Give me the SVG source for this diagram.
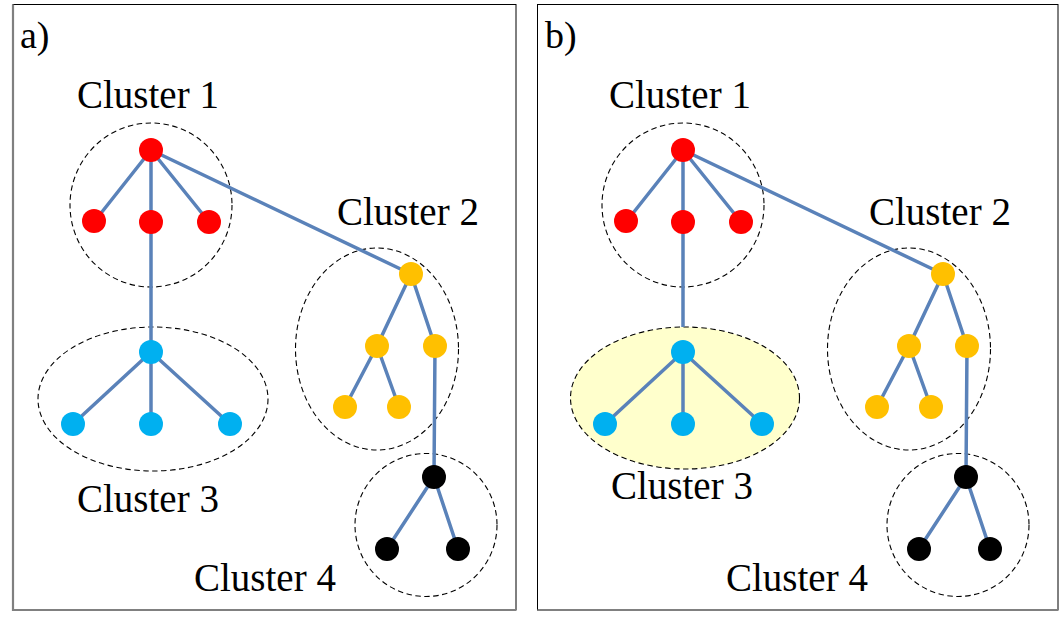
<svg xmlns="http://www.w3.org/2000/svg" width="1061" height="622" viewBox="0 0 1061 622">
<rect width="1061" height="622" fill="#fff"/>
<g id="panel-a-frame" fill="none">
<rect x="13" y="4.5" width="503" height="605.5" stroke="#000" stroke-width="1"/>
<polyline points="13,4.5 13,610 516,610" stroke="#808080" stroke-width="2.2"/>
</g>
<g id="panel-b-frame" fill="none">
<rect x="537.5" y="4.5" width="520.5" height="605.5" stroke="#000" stroke-width="1"/>
<polyline points="537.5,610 1058,610" stroke="#808080" stroke-width="2.2"/>
</g>
<g id="clusters-a" fill="none" stroke="#000" stroke-width="1.1" stroke-dasharray="5.5 3.5">
<ellipse id="a-cluster1" cx="151" cy="205" rx="81" ry="82"/>
<ellipse id="a-cluster2" cx="377" cy="349" rx="81.5" ry="101"/>
<ellipse id="a-cluster3" cx="153" cy="399" rx="115" ry="72"/>
<ellipse id="a-cluster4" cx="426" cy="525" rx="71" ry="71.5"/>
</g>
<g id="clusters-b" fill="none" stroke="#000" stroke-width="1.1" stroke-dasharray="5.5 3.5">
<ellipse id="b-cluster1" cx="683" cy="205" rx="81" ry="82"/>
<ellipse id="b-cluster2" cx="909" cy="349" rx="81.5" ry="101"/>
<ellipse id="b-cluster3" cx="685" cy="398" rx="114.5" ry="71" fill="#FFFFCC"/>
<ellipse id="b-cluster4" cx="958" cy="525" rx="71" ry="71.5"/>
</g>
<g id="connectors" stroke="#5A82B9" stroke-width="3.5" fill="none">
<path d="M151,150 L94,222 M151,150 L151,222 M151,150 L209,222 M151,150 L411,274 M151,222 L151,352 M151,352 L73,424 M151,352 L151,424 M151,352 L230,424 M411,274 L377,346 M411,274 L435,346 M377,346 L345,407 M377,346 L399,407 M435,346 L434,477 M434,477 L387,549 M434,477 L458,549"/>
<path d="M683,150 L626,222 M683,150 L683,222 M683,150 L741,222 M683,150 L943,274 M683,222 L683,327 M683,352 L605,424 M683,352 L683,424 M683,352 L762,424 M943,274 L909,346 M943,274 L967,346 M909,346 L877,407 M909,346 L931,407 M967,346 L966,477 M966,477 L919,549 M966,477 L990,549"/>
</g>
<g id="nodes-a">
<g fill="#FF0000">
<circle id="a-r0" cx="151" cy="150" r="12"/>
<circle id="a-r1" cx="94" cy="221" r="12"/>
<circle id="a-r2" cx="151" cy="222" r="12"/>
<circle id="a-r3" cx="209" cy="222" r="12"/>
</g>
<g fill="#FFC000">
<circle id="a-y0" cx="411" cy="274" r="12"/>
<circle id="a-y1" cx="377" cy="346" r="12"/>
<circle id="a-y2" cx="435" cy="346" r="12"/>
<circle id="a-y3" cx="345" cy="407" r="12"/>
<circle id="a-y4" cx="399" cy="407" r="12"/>
</g>
<g fill="#00B0F0">
<circle id="a-c0" cx="151" cy="352" r="12"/>
<circle id="a-c1" cx="73" cy="424" r="12"/>
<circle id="a-c2" cx="151" cy="424" r="12"/>
<circle id="a-c3" cx="230" cy="424" r="12"/>
</g>
<g fill="#000">
<circle id="a-k0" cx="434" cy="477" r="12"/>
<circle id="a-k1" cx="387" cy="549" r="12"/>
<circle id="a-k2" cx="458" cy="549" r="12"/>
</g>
</g>
<g id="nodes-b">
<g fill="#FF0000">
<circle id="b-r0" cx="683" cy="150" r="12"/>
<circle id="b-r1" cx="626" cy="221" r="12"/>
<circle id="b-r2" cx="683" cy="222" r="12"/>
<circle id="b-r3" cx="741" cy="222" r="12"/>
</g>
<g fill="#FFC000">
<circle id="b-y0" cx="943" cy="274" r="12"/>
<circle id="b-y1" cx="909" cy="346" r="12"/>
<circle id="b-y2" cx="967" cy="346" r="12"/>
<circle id="b-y3" cx="877" cy="407" r="12"/>
<circle id="b-y4" cx="931" cy="407" r="12"/>
</g>
<g fill="#00B0F0">
<circle id="b-c0" cx="683" cy="352" r="12"/>
<circle id="b-c1" cx="605" cy="424" r="12"/>
<circle id="b-c2" cx="683" cy="424" r="12"/>
<circle id="b-c3" cx="762" cy="424" r="12"/>
</g>
<g fill="#000">
<circle id="b-k0" cx="966" cy="477" r="12"/>
<circle id="b-k1" cx="919" cy="549" r="12"/>
<circle id="b-k2" cx="990" cy="549" r="12"/>
</g>
</g>
<g id="labels" fill="#000" font-size="39">
<text x="20" y="48" font-family="Liberation Serif" font-size="38">a)</text>
<text x="77" y="108" font-family="Liberation Serif">Cluster 1</text>
<text x="337" y="225" font-family="Liberation Serif">Cluster 2</text>
<text x="77" y="512" font-family="Liberation Serif">Cluster 3</text>
<text x="194" y="591" font-family="Liberation Serif">Cluster 4</text>
<text x="545" y="48" font-family="Liberation Serif" font-size="38">b)</text>
<text x="609" y="108" font-family="Liberation Serif">Cluster 1</text>
<text x="869" y="225" font-family="Liberation Serif">Cluster 2</text>
<text x="611" y="499" font-family="Liberation Serif">Cluster 3</text>
<text x="726" y="591" font-family="Liberation Serif">Cluster 4</text>
</g>
</svg>
